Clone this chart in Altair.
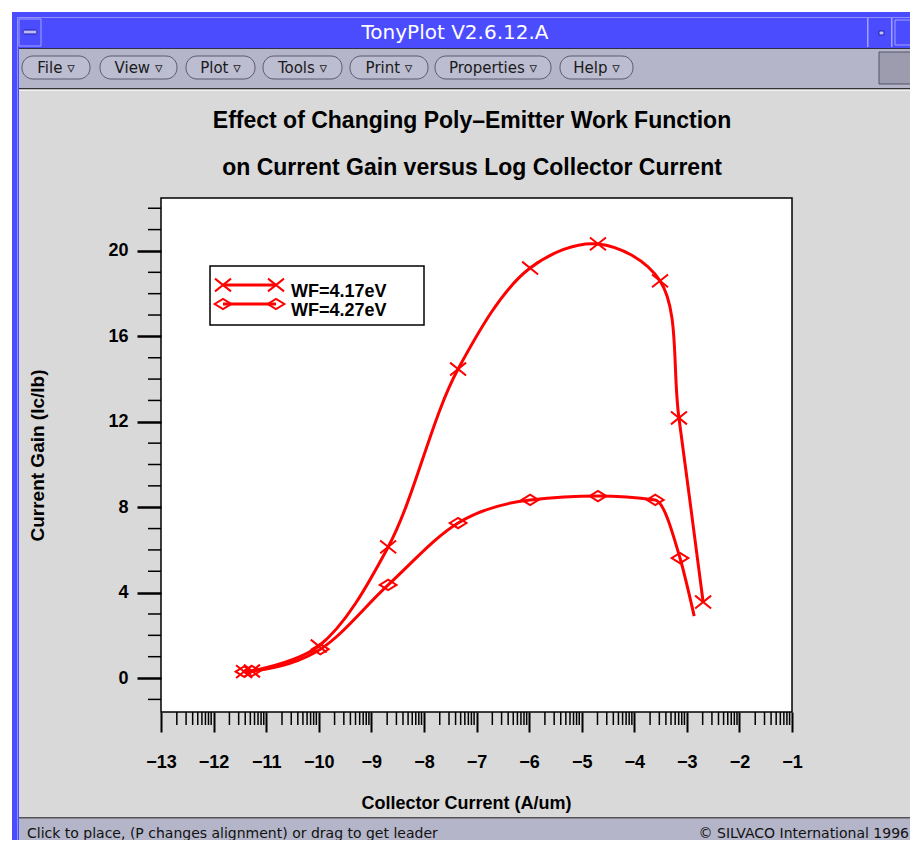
import altair as alt
import pandas as pd
import numpy as np

# ---------------- data ----------------
series_names = ["WF=4.17eV", "WF=4.27eV"]
x_417 = [-11.42, -11.27, -10.00, -8.68, -7.35, -5.98, -4.69, -3.51, -3.15, -2.69]
y_417 = [0.30, 0.33, 1.50, 6.14, 14.47, 19.20, 20.33, 18.60, 12.18, 3.56]
mk_417 = [True, True, True, True, True, True, True, True, True, True]
x_427 = [-11.42, -11.27, -9.97, -8.68, -7.35, -5.98, -4.69, -3.60, -3.13, -2.86]
y_427 = [0.30, 0.33, 1.35, 4.36, 7.26, 8.34, 8.52, 8.34, 5.62, 2.90]
mk_427 = [True, True, True, True, True, True, True, True, True, False]

x_major = list(range(-13, 0))
y_major = [0, 4, 8, 12, 16, 20]
y_minor = [-1, 1, 2, 3, 5, 6, 7, 9, 10, 11, 13, 14, 15, 17, 18, 19, 21, 22]
x_minor = [n + np.log10(k) for n in range(-13, -1) for k in range(2, 10)]

title_lines = ["Effect of Changing Poly\u2013Emitter Work Function",
               "on Current Gain versus Log Collector Current"]
x_title = "Collector Current (A/um)"
y_title = "Current Gain (Ic/Ib)"
window_title = "TonyPlot V2.6.12.A"
menu_items = ["File", "View", "Plot", "Tools", "Print", "Properties", "Help"]
status_left = "Click to place, (P changes alignment) or drag to get leader"
status_right = "\u00a9 SILVACO International 1996"

# ---------------- layout ----------------
W, H = 631, 514
OX, OY = 161, 198          # page position of plot origin
PAD = {"left": OX - 8, "top": OY - 8, "right": 902 - (OX - 8) - W, "bottom": 832 - (OY - 8) - H}

def px(v):
    return v - OX

def py(v):
    return v - OY

one = pd.DataFrame({"k": [0]})
RED = "#ff0000"
BLUE = "#4c4cff"
BAR = "#b4b5c8"
PANEL = "#d9d9d9"
X_SHAPE = "M-1,-0.8L1,0.8M-1,0.8L1,-0.8"
D_SHAPE = "M-1,0L0,-0.62L1,0L0,0.62Z"
shapes = [X_SHAPE, D_SHAPE]
sizes = [256, 280]
interps = ["catmull-rom", "monotone"]

def rect(x1, y1, x2, y2, fill=None, stroke=None, sw=1, r=0):
    kw = {}
    if fill is not None:
        kw["fill"] = fill
    else:
        kw["fillOpacity"] = 0
    if stroke is not None:
        kw["stroke"] = stroke
        kw["strokeWidth"] = sw
    if r:
        kw["cornerRadius"] = r
    return alt.Chart(one).mark_rect(**kw).encode(
        x=alt.value(px(x1)), x2=alt.value(px(x2)),
        y=alt.value(py(y1)), y2=alt.value(py(y2)))

def text(t, x, y, size, color="black", font="DejaVu Sans", weight="normal", align="center", baseline="middle"):
    return alt.Chart(one).mark_text(text=t, fontSize=size, color=color, font=font,
                                    fontWeight=weight, align=align, baseline=baseline).encode(
        x=alt.value(px(x)), y=alt.value(py(y)))

# scales and axes (identical objects on every layer that uses a field position)
xscale = alt.Scale(domain=[-13, -1], nice=False, zero=False)
yscale = alt.Scale(domain=[-1.59, 22.48], nice=False, zero=False)

xaxis = alt.Axis(values=x_major, format="d", tickSize=20, tickWidth=2, tickColor="black",
                 domain=False, grid=False, labelFont="Liberation Sans", labelFontSize=18,
                 labelFontWeight="bold", labelColor="black", labelPadding=21, labelFlush=False,
                 labelOverlap=False, title=x_title, titleFont="Liberation Sans", titleFontSize=18,
                 titleFontWeight="bold", titleColor="black", titleX=305, titleY=91,
                 titleBaseline="middle", titleAlign="center", zindex=1)
yaxis = alt.Axis(values=y_major, format="d", tickSize=24, tickWidth=2.5, tickColor="black",
                 domain=False, grid=False, labelFont="Liberation Sans", labelFontSize=18,
                 labelFontWeight="bold", labelColor="black", labelPadding=9,
                 labelOverlap=False, title=y_title, titleFont="Liberation Sans", titleFontSize=19,
                 titleFontWeight="bold", titleColor="black", titleX=-124, titleY=H / 2,
                 titleAngle=270, titleBaseline="middle", titleAlign="center", zindex=1)

def X(field):
    return alt.X(field, scale=xscale, axis=xaxis)

def Y(field):
    return alt.Y(field, scale=yscale, axis=yaxis)

df = pd.concat([
    pd.DataFrame({"series": series_names[0], "x": x_417, "y": y_417, "marker": mk_417}),
    pd.DataFrame({"series": series_names[1], "x": x_427, "y": y_427, "marker": mk_427}),
], ignore_index=True)

layers = []
# window chrome
layers += [
    rect(8, 8, 918, 12, fill="white"),
    rect(8, 8, 12, 848, fill="white"),
    rect(12, 12, 918, 48, fill=BLUE),
    rect(12, 48, 19, 848, fill=BLUE),
    rect(17, 17, 918, 18, fill="#9090ff"),
    rect(17, 17, 18, 848, fill="#9090ff"),
    rect(19, 19, 41, 46, stroke="#a0a0ff", sw=1),
    rect(23, 30, 37, 34, fill="#b8b8ff", stroke="#2020a0", sw=1, r=2),
    rect(867, 18, 868.5, 47, fill="#a0a0ff"),
    rect(879, 31, 884, 35, fill="#c0c0ff", stroke="#2020a0", sw=1),
    rect(891, 18, 892.5, 47, fill="#a0a0ff"),
    rect(895, 20, 918, 45, stroke="#a0a0ff", sw=1),
    text(window_title, 455, 33, 20, color="white"),
    rect(19, 48, 918, 88, fill=BAR),
    rect(19, 48, 918, 49, fill="#303044"),
    rect(879, 52, 912, 84, fill="#9c9cae", stroke="#55556a", sw=1),
    rect(19, 88, 918, 89.5, fill="#333333"),
    rect(19, 89.5, 918, 91, fill="#f2f2f2"),
    rect(19, 817, 918, 848, fill=BAR),
    rect(19, 817, 918, 818.5, fill="#555555"),
    text(status_left, 27, 834, 14, color="#111111", align="left"),
    text(status_right, 909, 834, 14, color="#111111", align="right"),
]
btn_x = [(22, 90), (100, 177), (186, 255), (263, 342), (350, 428), (435, 551), (560, 633)]
for lab, (a, b) in zip(menu_items, btn_x):
    layers.append(rect(a, 56, b, 79, fill="#bcbdd0", stroke="#5a5a70", sw=1, r=11))
    layers.append(text(lab + " \u25bf", (a + b) / 2, 67.5, 15, color="#1a1a1a"))

# chart titles
layers.append(text(title_lines[0], 472, 121, 23, font="Liberation Sans", weight="bold"))
layers.append(text(title_lines[1], 472, 168, 23, font="Liberation Sans", weight="bold"))

# legend box
layers.append(rect(210, 266, 424, 325, fill="white", stroke="black", sw=1.5))

# minor ticks
xm = pd.DataFrame({"x": x_minor})
ym = pd.DataFrame({"y": y_minor})
layers.append(alt.Chart(xm).mark_rule(color="black", strokeWidth=1.5).encode(
    x=X("x:Q"), y=alt.value(H), y2=alt.value(H + 13)))
layers.append(alt.Chart(ym).mark_rule(color="black", strokeWidth=1.5).encode(
    y=Y("y:Q"), x=alt.value(-13), x2=alt.value(0)))

# data lines and markers
for i, name in enumerate(series_names):
    sub = alt.Chart(df).transform_filter(alt.datum.series == name)
    layers.append(sub.mark_line(interpolate=interps[i], strokeWidth=3, color=RED).encode(
        x=X("x:Q"), y=Y("y:Q")))

for i, name in enumerate(series_names):
    pts = alt.Chart(df).transform_filter(
        (alt.datum.series == name) & alt.datum.marker
    ).mark_point(shape=shapes[i], size=sizes[i], filled=False, color=RED, strokeWidth=2, opacity=1).encode(
        x=X("x:Q"), y=Y("y:Q"),
    )
    layers.append(pts)

# legend rows
for i, name in enumerate(series_names):
    yy = 285 + 19 * i
    layers.append(alt.Chart(one).mark_rule(color=RED, strokeWidth=3).encode(
        x=alt.value(px(223)), x2=alt.value(px(276)), y=alt.value(py(yy))))
    for ex in (223, 276):
        layers.append(alt.Chart(one).mark_point(shape=shapes[i], size=sizes[i], filled=False,
                                                color=RED, strokeWidth=2, opacity=1).encode(
            x=alt.value(px(ex)), y=alt.value(py(yy))))
    layers.append(alt.Chart(pd.DataFrame({"series": [name]})).mark_text(
        font="Liberation Sans", fontSize=18, fontWeight="bold", align="left", baseline="middle",
        color="black").encode(text="series:N", x=alt.value(px(291)), y=alt.value(py(yy + 7))))

chart = alt.layer(*layers).properties(
    width=W, height=H,
    padding=PAD,
    autosize=alt.AutoSizeParams(type="none"),
    background=PANEL,
).configure_view(fill="white", stroke="black", strokeWidth=1.5)

chart.save("out.html", embed_options={"renderer": "svg", "actions": False})
